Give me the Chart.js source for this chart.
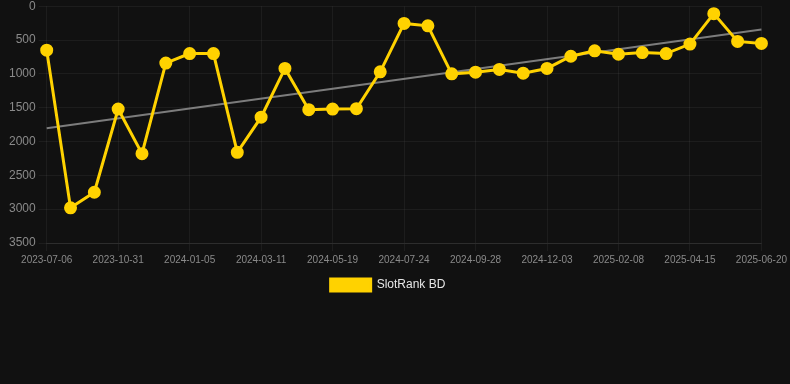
<!DOCTYPE html>
<html>
<head>
<meta charset="utf-8">
<script src="https://cdn.jsdelivr.net/npm/chart.js@4/dist/chart.umd.min.js"></script>
<style>
  html, body { margin: 0; padding: 0; background: #111111; overflow: hidden; }
  #wrap { width: 790px; height: 305px; margin-top: -4px; }
</style>
</head>
<body>
<div id="wrap"><canvas id="rankChart"></canvas></div>
<script>
// chart data
const dates = [
    '2023-07-06', '2023-08-21', '2023-09-27', '2023-10-31', '2023-11-22', '2023-12-14',
    '2024-01-05', '2024-01-27', '2024-02-18', '2024-03-11', '2024-04-03', '2024-04-26',
    '2024-05-19', '2024-06-10', '2024-07-02', '2024-07-24', '2024-08-15', '2024-09-06',
    '2024-09-28', '2024-10-20', '2024-11-11', '2024-12-03', '2024-12-25', '2025-01-17',
    '2025-02-08', '2025-03-02', '2025-03-24', '2025-04-15', '2025-05-07', '2025-05-29',
    '2025-06-20'
];
const rankValues = [
    650, 2980, 2750, 1520, 2180, 840, 700, 700, 2160, 1640, 920, 1530,
    1520, 1515, 970, 255, 290, 1000, 975, 935, 990, 920, 740, 660,
    710, 685, 700, 560, 110, 520, 550
];
const trendStart = 1805;
const trendEnd = 345;
const yTicks = [0, 500, 1000, 1500, 2000, 2500, 3000, 3500];

const trendValues = dates.map((d, i) => i === 0 ? trendStart : (i === dates.length - 1 ? trendEnd : null));

const ctx = document.getElementById('rankChart').getContext('2d');
Chart.defaults.font.family = 'Arial, "Liberation Sans", sans-serif';

new Chart(ctx, {
    type: 'line',
    data: {
        labels: dates,
        datasets: [
            {
                label: 'SlotRank BD', data: rankValues,
                borderColor: '#ffd200', backgroundColor: '#ffd200',
                borderWidth: 3, pointRadius: 5, pointHoverRadius: 6,
                pointBackgroundColor: '#ffd200', pointBorderColor: '#ffd200',
                tension: 0, order: 1
            },
            {
                label: 'trend', data: trendValues, spanGaps: true,
                borderColor: 'rgba(160,160,160,0.75)', borderWidth: 2,
                pointRadius: 0, pointHoverRadius: 0, fill: false, order: 2
            }
        ]
    },
    options: {
        responsive: true, maintainAspectRatio: false, animation: false,
        layout: { padding: { top: 0, right: 20, left: 6, bottom: 0 } },
        plugins: {
            legend: {
                position: 'bottom',
                labels: {
                    color: '#e6e6e6', font: { size: 12 }, boxWidth: 40, boxHeight: 12,
                    filter: item => item.text !== 'trend'
                }
            },
            tooltip: { enabled: false }
        },
        scales: {
            x: {
                grid: { color: 'rgba(255,255,255,0.05)' },
                border: { color: 'rgba(255,255,255,0.08)' },
                ticks: { color: '#8a8a8a', font: { size: 10 }, maxRotation: 0, autoSkip: true, maxTicksLimit: 11 }
            },
            y: {
                reverse: true, min: 0, max: 3500,
                afterBuildTicks: axis => { axis.ticks = yTicks.map(v => ({ value: v })); },
                grid: { color: 'rgba(255,255,255,0.05)' },
                border: { display: false },
                ticks: { color: '#8a8a8a', font: { size: 12 }, callback: v => String(v) }
            }
        }
    }
});
</script>
</body>
</html>
